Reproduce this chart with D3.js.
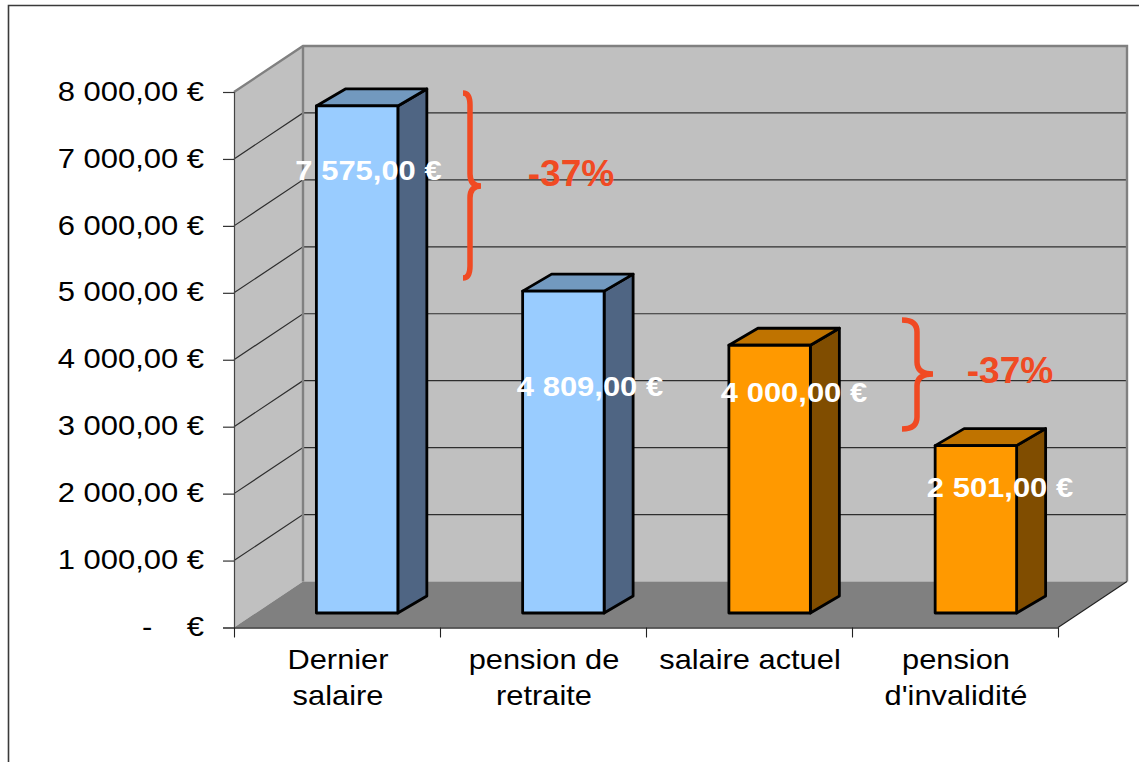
<!doctype html>
<html lang="fr">
<head>
<meta charset="UTF-8" />
<title>Dernier salaire et pensions</title>
<script src="https://d3js.org/d3.v7.min.js"></script>
<style>
    html, body { margin: 0; padding: 0; background: #fff; overflow: hidden; }
    svg { display: block; }
    text { font-family: "Liberation Sans", Arial, sans-serif; }
</style>
</head>
<body>
<svg id="chart" width="1139" height="762"></svg>
<script>
    const categories = ["Dernier salaire", "pension de retraite", "salaire actuel", "pension d'invalidité"];
    const categoryLines = [["Dernier", "salaire"], ["pension de", "retraite"], ["salaire actuel"], ["pension", "d'invalidité"]];
    const values = [7575, 4809, 4000, 2501];
    const valueLabels = ["7 575,00 €", "4 809,00 €", "4 000,00 €", "2 501,00 €"];
    const yTicks = [0, 1000, 2000, 3000, 4000, 5000, 6000, 7000, 8000];
    const yTickLabels = ["-\u00a0\u00a0\u00a0\u00a0€", "1 000,00 €", "2 000,00 €", "3 000,00 €", "4 000,00 €", "5 000,00 €", "6 000,00 €", "7 000,00 €", "8 000,00 €"];
    const changeLabels = ["-37%", "-37%"];

    // hand placed annotations, same as in the original sheet
    const valueLabelPos = [[368.5, 180], [590, 396], [794, 402], [1000, 497]];
    const changeLabelPos = [[571, 186], [1010, 383]];
    const braces = [
        { x0: 463, x1: 470, tip: 481, y0: 93, ym: 186, y1: 278 },
        { x0: 902, x1: 917, tip: 933, y0: 320, ym: 374, y1: 429 },
    ];

    const barColors = [
        { face: "#99ccff", side: "#4f6583", top: "#7299bf" },
        { face: "#99ccff", side: "#4f6583", top: "#7299bf" },
        { face: "#ff9900", side: "#804d00", top: "#bf7300" },
        { face: "#ff9900", side: "#804d00", top: "#bf7300" },
    ];

    const red = "#f04a23";
    const svg = d3.select("#chart");

    const x0 = 234, x1 = 1058, depthX = 69, depthY = 46;

    const y = d3.scaleLinear().domain([0, 8000]).range([627.5, 92]);
    const x = d3.scaleBand().domain(categories).range([x0, x1]).paddingInner(0.605).paddingOuter(0.3);

    // stretch text sideways, the original picture is a bit wider than high
    function stretch(sel, k) {
        sel.each(function () {
            this.setAttribute("textLength", this.getComputedTextLength() * k);
            this.setAttribute("lengthAdjust", "spacingAndGlyphs");
        });
    }

    // frame
    svg.append("path")
        .attr("d", "M8.5,762V5.5H1139")
        .attr("fill", "none")
        .attr("stroke", "#3a3a3a")
        .attr("stroke-width", 1.6);

    // walls and floor
    svg.append("path")
        .attr("d", d3.line()([[x0, y(8000)], [x0 + depthX, y(8000) - depthY], [x0 + depthX, y(0) - depthY], [x0, y(0)]]) + "Z")
        .attr("fill", "#c0c0c0");
    svg.append("rect")
        .attr("x", x0 + depthX)
        .attr("y", y(8000) - depthY)
        .attr("width", x1 - x0)
        .attr("height", y(0) - y(8000))
        .attr("fill", "#c0c0c0");
    svg.append("path")
        .attr("d", d3.line()([[x0, y(0)], [x0 + depthX, y(0) - depthY], [x1 + depthX, y(0) - depthY], [x1, y(0)]]) + "Z")
        .attr("fill", "#808080");

    // gridlines on both walls
    const inner = yTicks.filter((t) => t > 0 && t < 8000);
    svg.append("g")
        .selectAll("path")
        .data(inner)
        .join("path")
        .attr("d", (t) => d3.line()([[x0, y(t)], [x0 + depthX, y(t) - depthY], [x1 + depthX, y(t) - depthY]]))
        .attr("fill", "none")
        .attr("stroke", "#2e2e2e")
        .attr("stroke-width", 1.2);

    // wall edges
    svg.append("path")
        .attr("d", d3.line()([[x0, y(8000)], [x0 + depthX, y(8000) - depthY], [x1 + depthX, y(8000) - depthY], [x1 + depthX, y(0) - depthY]]))
        .attr("fill", "none")
        .attr("stroke", "#808080")
        .attr("stroke-width", 2.4);
    svg.append("path")
        .attr("d", d3.line()([[x0 + depthX, y(8000) - depthY], [x0 + depthX, y(0) - depthY]]))
        .attr("stroke", "#808080")
        .attr("stroke-width", 2.4);
    svg.append("path")
        .attr("d", d3.line()([[x1, y(0)], [x1 + depthX, y(0) - depthY]]))
        .attr("stroke", "#222")
        .attr("stroke-width", 1.1);

    // y axis
    const yAxis = svg.append("g")
        .attr("transform", `translate(${x0},0)`)
        .call(d3.axisLeft(y)
            .tickValues(yTicks)
            .tickSize(11)
            .tickPadding(19)
            .tickFormat((d, i) => yTickLabels[i]));
    yAxis.select(".domain").attr("stroke", "#444").attr("stroke-width", 1.2);
    yAxis.selectAll(".tick line").attr("stroke", "#333").attr("stroke-width", 1.2);
    yAxis.selectAll("text")
        .attr("font-size", 28)
        .attr("fill", "#000")
        .attr("dy", "0.29em")
        .call(stretch, 1.105);

    // x axis, ticks sit between the categories
    const xTicks = d3.scaleLinear().domain([0, categories.length]).range([x0, x1]);
    const xAxis = svg.append("g")
        .attr("transform", `translate(0,${y(0)})`)
        .call(d3.axisBottom(xTicks)
            .ticks(categories.length)
            .tickSize(10)
            .tickSizeOuter(0)
            .tickFormat(""));
    xAxis.select(".domain").attr("stroke", "#333").attr("stroke-width", 1.4);
    xAxis.selectAll(".tick line").attr("stroke", "#222").attr("stroke-width", 1.1);

    const catLabels = svg.append("g")
        .selectAll("text")
        .data(categories)
        .join("text")
        .attr("text-anchor", "middle")
        .attr("font-size", 28)
        .attr("fill", "#000")
        .attr("y", 669);
    catLabels.each(function (d, i) {
        const cx = x0 + (x1 - x0) * (i + 0.5) / categories.length + 1;
        d3.select(this)
            .selectAll("tspan")
            .data(categoryLines[i])
            .join("tspan")
            .attr("x", cx)
            .attr("y", (l, j) => 669 + j * 36)
            .text((l) => l);
    });
    // textLength on the tspans, not on the text, or the lines get merged
    catLabels.selectAll("tspan").each(function () {
        this.setAttribute("textLength", this.getComputedTextLength() * 1.1);
        this.setAttribute("lengthAdjust", "spacingAndGlyphs");
    });

    // bars: front face pushed into the floor, then a shallow box behind it
    const inX = 20.5, inY = 14.5, boxX = 29, boxY = 17;
    const bars = svg.append("g")
        .selectAll("g")
        .data(categories)
        .join("g")
        .attr("stroke", "#000")
        .attr("stroke-width", 2.8)
        .attr("stroke-linejoin", "round");

    bars.append("path")
        .attr("fill", (d, i) => barColors[i].side)
        .attr("d", (d, i) => {
            const r = x(d) + inX + x.bandwidth(), t = y(values[i]) - inY, b = y(0) - inY;
            return d3.line()([[r, t], [r + boxX, t - boxY], [r + boxX, b - boxY], [r, b]]) + "Z";
        });
    bars.append("path")
        .attr("fill", (d, i) => barColors[i].top)
        .attr("d", (d, i) => {
            const l = x(d) + inX, r = l + x.bandwidth(), t = y(values[i]) - inY;
            return d3.line()([[l, t], [l + boxX, t - boxY], [r + boxX, t - boxY], [r, t]]) + "Z";
        });
    bars.append("rect")
        .attr("fill", (d, i) => barColors[i].face)
        .attr("x", (d) => x(d) + inX)
        .attr("y", (d, i) => y(values[i]) - inY)
        .attr("width", x.bandwidth())
        .attr("height", (d, i) => y(0) - y(values[i]));

    // value labels
    svg.append("g")
        .selectAll("text")
        .data(valueLabels)
        .join("text")
        .attr("x", (d, i) => valueLabelPos[i][0])
        .attr("y", (d, i) => valueLabelPos[i][1])
        .attr("text-anchor", "middle")
        .attr("font-size", 27.5)
        .attr("font-weight", "bold")
        .attr("fill", "#fff")
        .text((d) => d)
        .call(stretch, 1.125);

    // braces and percentages
    svg.append("g")
        .selectAll("path")
        .data(braces)
        .join("path")
        .attr("fill", "none")
        .attr("stroke", red)
        .attr("stroke-width", 5.5)
        .attr("d", (b) => {
            const c = 12;
            return `M${b.x0},${b.y0}Q${b.x1},${b.y0} ${b.x1},${b.y0 + c}` +
                `V${b.ym - c}Q${b.x1},${b.ym} ${b.tip},${b.ym}` +
                `Q${b.x1},${b.ym} ${b.x1},${b.ym + c}` +
                `V${b.y1 - c}Q${b.x1},${b.y1} ${b.x0},${b.y1}`;
        });

    svg.append("g")
        .selectAll("text")
        .data(changeLabels)
        .join("text")
        .attr("x", (d, i) => changeLabelPos[i][0])
        .attr("y", (d, i) => changeLabelPos[i][1])
        .attr("text-anchor", "middle")
        .attr("font-size", 36)
        .attr("font-weight", "bold")
        .attr("fill", red)
        .text((d) => d)
        .call(stretch, 1.03);
</script>
</body>
</html>
